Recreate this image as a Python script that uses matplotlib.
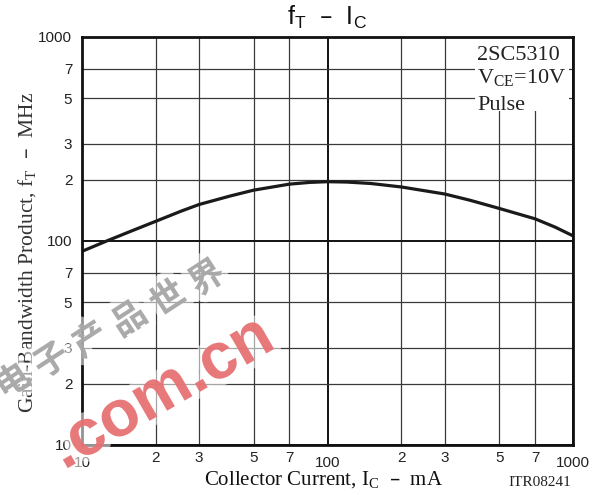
import numpy as np
import matplotlib
matplotlib.use("Agg")
import matplotlib.pyplot as plt
import matplotlib.patheffects as pe
from matplotlib.patches import Rectangle

# fT vs IC curve (VCE = 10 V, pulse)
ic_ma = [10, 12.6, 16, 20, 25.5, 30, 40, 50, 70, 85, 100, 120, 150, 200, 300, 380, 500, 700, 845, 1000]
ft_mhz = [89, 100, 112.3, 125, 140.5, 151, 166, 177.5, 190, 193.8, 195.3, 194.5, 191.4, 184, 170,
          158.5, 144.5, 128.5, 117, 106]

x_major = [10, 100, 1000]
x_minor = [20, 30, 50, 70, 200, 300, 500, 700]
x_minor_labels = ["2", "3", "5", "7", "2", "3", "5", "7"]
y_major = [10, 100, 1000]
y_minor = [20, 30, 50, 70, 200, 300, 500, 700]
y_minor_labels = ["2", "3", "5", "7", "2", "3", "5", "7"]

SANS = "Liberation Sans"
SERIF = "Liberation Serif"
TICK_COLOR = "#222222"

fig = plt.figure(figsize=(6.07, 4.95), dpi=100)
ax = fig.add_axes([82 / 607, 50 / 495, 491 / 607, 408 / 495])
ax.set_xscale("log")
ax.set_yscale("log")
ax.set_xlim(10, 1000)
ax.set_ylim(10, 1000)

ax.set_xticks(x_major, [str(v) for v in x_major])
ax.set_xticks(x_minor, x_minor_labels, minor=True)
ax.set_yticks(y_major, [str(v) for v in y_major])
ax.set_yticks(y_minor, y_minor_labels, minor=True)
ax.tick_params(axis="x", which="major", length=0, pad=8, labelsize=11, labelcolor=TICK_COLOR)
ax.tick_params(axis="x", which="minor", length=0, pad=4.5, labelsize=11, labelcolor=TICK_COLOR)
ax.tick_params(axis="y", which="both", length=0, pad=7, labelsize=11, labelcolor=TICK_COLOR)
for lab in ax.get_xticklabels(which="both") + ax.get_yticklabels(which="both"):
    lab.set_fontfamily(SANS)

ax.grid(True, which="minor", color="#3a3a3a", lw=0.9)
ax.grid(True, which="major", color="#111111", lw=1.4)
for sp in ax.spines.values():
    sp.set_linewidth(2.0)
    sp.set_color("#111111")
    sp.set_zorder(5)

ax.plot(ic_ma, ft_mhz, color="#1a1a1a", lw=2.3, solid_capstyle="butt",
        solid_joinstyle="round", zorder=4)

# condition box, white background hides the grid behind it
ax.add_patch(Rectangle((393 / 491, 334 / 408), 94 / 491, 74 / 408,
                       transform=ax.transAxes, facecolor="white", edgecolor="none", zorder=3))
box_x = 395 / 491
ax.text(box_x, 1 - 18 / 408, "2SC5310", transform=ax.transAxes, family=SERIF,
        fontsize=16, va="center", ha="left", color="#222222", zorder=4)
ax.text(box_x, 1 - 41 / 408, r"V$_{\mathregular{CE}}$=10V", transform=ax.transAxes,
        family=SERIF, fontsize=16, va="center", ha="left", color="#222222", zorder=4)
ax.text(box_x, 1 - 68 / 408, "Pulse", transform=ax.transAxes, family=SERIF,
        fontsize=16, va="center", ha="left", color="#222222", zorder=4)

fig.text(327 / 607, 1 - 17 / 495, r"f$_{\mathregular{T}}$  –  I$_{\mathregular{C}}$",
         family=SANS, fontsize=18, ha="center", va="center", color="#111111")
fig.text(28 / 607, 1 - 252 / 495, r"Gain-Bandwidth Product, f$_{\mathregular{T}}$  –  MHz",
         family=SERIF, fontsize=15.5, rotation=90, ha="center", va="center", color="#333333")
fig.text(324 / 607, 1 - 480 / 495, r"Collector Current, I$_{\mathregular{C}}$  –  mA",
         family=SERIF, fontsize=15, ha="center", va="center", color="#111111")
fig.text(540 / 607, 1 - 483 / 495, "ITR08241", family=SERIF, fontsize=11,
         ha="center", va="center", color="#222222")

# site watermark: gray characters along a rising line, red domain below
halo = [pe.withStroke(linewidth=10, foreground="white", alpha=0.55)]
angle = 28
step = 44
end_x, end_y = 207, 278
chars = "电子产品世界"
for i, ch in enumerate(chars):
    k = len(chars) - 1 - i
    px = end_x - k * step * np.cos(np.radians(angle))
    py = end_y + k * step * np.sin(np.radians(angle))
    fig.text(px / 607, 1 - py / 495, ch, family=["Noto Sans CJK SC", "DejaVu Sans"],
             fontsize=25, fontweight="bold", rotation=angle + 5, ha="center", va="center",
             color="#a4a4a4", alpha=0.9, path_effects=halo, zorder=6)
fig.text(162 / 607, 1 - 394 / 495, ".com.cn", family=SANS, fontsize=47, fontweight="bold",
         rotation=30, ha="center", va="center", color="#e6686b", alpha=0.85,
         path_effects=halo, zorder=7)

fig.savefig("out.png", dpi=100, facecolor="white")
